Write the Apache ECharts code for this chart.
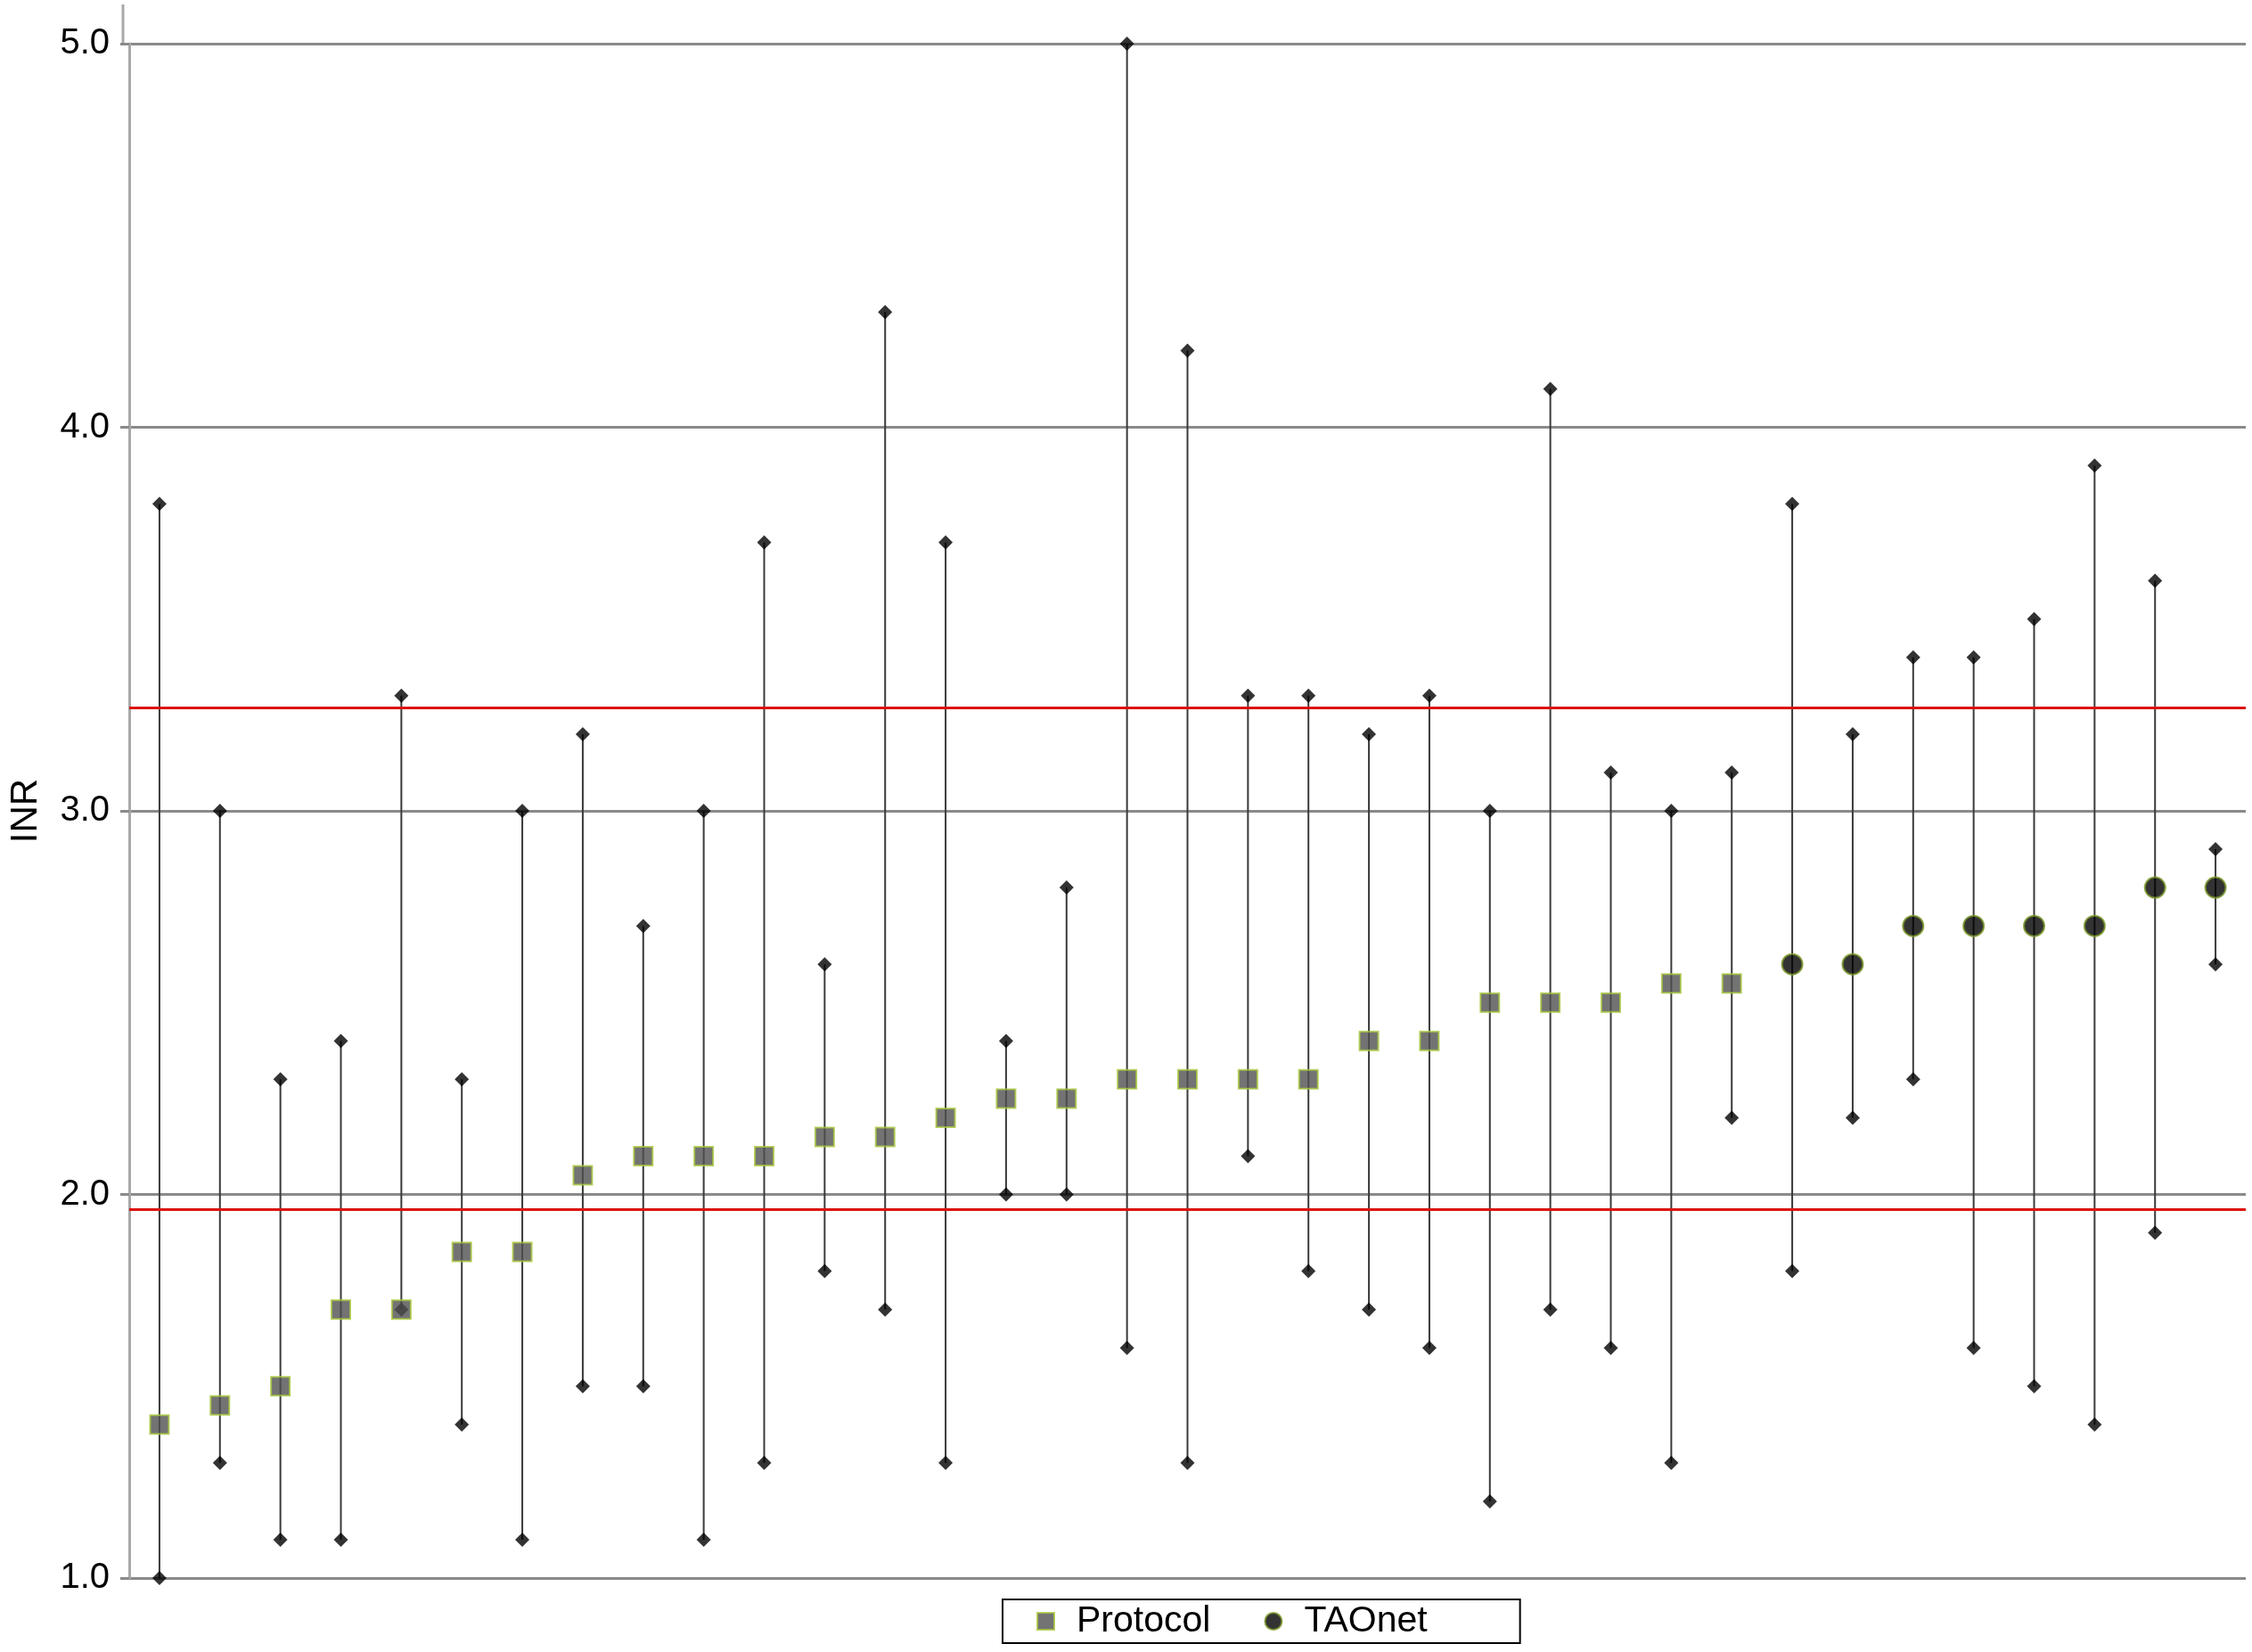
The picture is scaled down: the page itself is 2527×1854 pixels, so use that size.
<!DOCTYPE html>
<html>
<head>
<meta charset="utf-8">
<script src="https://cdn.jsdelivr.net/npm/echarts@6/dist/echarts.min.js"></script>
<style>
  html, body { margin: 0; padding: 0; background: #fff; }
  #chart { width: 2527px; height: 1854px; }
</style>
</head>
<body>
<div id="chart"></div>
<script>
// one column per patient, sorted by central INR
var categories = ["1", "2", "3", "4", "5", "6", "7", "8", "9", "10",
  "11", "12", "13", "14", "15", "16", "17", "18", "19", "20",
  "21", "22", "23", "24", "25", "26", "27", "28", "29", "30",
  "31", "32", "33", "34", "35"];
var groups = ["Protocol", "Protocol", "Protocol", "Protocol", "Protocol", "Protocol", "Protocol",
  "Protocol", "Protocol", "Protocol", "Protocol", "Protocol", "Protocol", "Protocol",
  "Protocol", "Protocol", "Protocol", "Protocol", "Protocol", "Protocol", "Protocol",
  "Protocol", "Protocol", "Protocol", "Protocol", "Protocol", "Protocol",
  "TAOnet", "TAOnet", "TAOnet", "TAOnet", "TAOnet", "TAOnet", "TAOnet", "TAOnet"];
var centerValues = [1.4, 1.45, 1.5, 1.7, 1.7, 1.85, 1.85, 2.05, 2.1, 2.1,
  2.1, 2.15, 2.15, 2.2, 2.25, 2.25, 2.3, 2.3, 2.3, 2.3,
  2.4, 2.4, 2.5, 2.5, 2.5, 2.55, 2.55, 2.6, 2.6, 2.7,
  2.7, 2.7, 2.7, 2.8, 2.8];
var minValues = [1.0, 1.3, 1.1, 1.1, 1.7, 1.4, 1.1, 1.5, 1.5, 1.1,
  1.3, 1.8, 1.7, 1.3, 2.0, 2.0, 1.6, 1.3, 2.1, 1.8,
  1.7, 1.6, 1.2, 1.7, 1.6, 1.3, 2.2, 1.8, 2.2, 2.3,
  1.6, 1.5, 1.4, 1.9, 2.6];
var maxValues = [3.8, 3.0, 2.3, 2.4, 3.3, 2.3, 3.0, 3.2, 2.7, 3.0,
  3.7, 2.6, 4.3, 3.7, 2.4, 2.8, 5.0, 4.2, 3.3, 3.3,
  3.2, 3.3, 3.0, 4.1, 3.1, 3.0, 3.1, 3.8, 3.2, 3.4,
  3.4, 3.5, 3.9, 3.6, 2.9];
var yTicks = [1, 2, 3, 4, 5];
var targetRange = [1.96, 3.27];

var chart = echarts.init(document.getElementById("chart"));

// 按组拆分中心值
function groupData(name) {
  return centerValues.map(function (v, i) { return groups[i] === name ? v : "-"; });
}

var option = {
  animation: false,
  backgroundColor: "#fff",
  textStyle: { fontFamily: "Liberation Sans, Arial, sans-serif", color: "#000" },
  grid: { left: 138, right: 7, top: 49, bottom: 83 },
  // 轴线在顶部网格线之上略微伸出
  graphic: [{
    type: "line",
    shape: { x1: 138, y1: 5, x2: 138, y2: 49 },
    style: { stroke: "#a8a8a8", lineWidth: 3 }
  }],
  legend: {
    data: ["Protocol", "TAOnet"],
    left: 1125,
    top: 1795,
    padding: [4, 104, 4, 38],
    itemGap: 60,
    itemWidth: 19,
    itemHeight: 19,
    borderColor: "#000",
    borderWidth: 2,
    borderRadius: 0,
    textStyle: { fontSize: 41, color: "#000", padding: [0, 0, 0, 20] }
  },
  xAxis: {
    type: "category",
    data: categories,
    boundaryGap: true,
    axisLine: { show: false },
    axisTick: { show: false },
    axisLabel: { show: false },
    splitLine: { show: false }
  },
  yAxis: {
    type: "value",
    min: yTicks[0],
    max: yTicks[yTicks.length - 1],
    interval: 1,
    name: "INR",
    nameLocation: "middle",
    nameGap: 95,
    nameTextStyle: { fontSize: 42, color: "#000" },
    axisLine: { show: true, lineStyle: { color: "#a8a8a8", width: 3 } },
    axisTick: { show: true, length: 10, lineStyle: { color: "#8a8a8a", width: 3 } },
    axisLabel: {
      fontSize: 40, color: "#000", margin: 22,
      formatter: function (v) { return v.toFixed(1); }
    },
    splitLine: { show: true, lineStyle: { color: "#8a8a8a", width: 3 } }
  },
  series: [
    {
      name: "range",
      type: "custom",
      z: 2,
      data: categories.map(function (c, i) { return [i, minValues[i], maxValues[i]]; }),
      renderItem: function (params, api) {
        var p1 = api.coord([api.value(0), api.value(1)]);
        var p2 = api.coord([api.value(0), api.value(2)]);
        return {
          type: "line",
          shape: { x1: p1[0], y1: p1[1], x2: p2[0], y2: p2[1] },
          style: { stroke: "#3a3a3a", lineWidth: 2 }
        };
      },
      markLine: {
        silent: true,
        symbol: "none",
        label: { show: false },
        lineStyle: { color: "#dd1111", width: 3, type: "solid" },
        data: targetRange.map(function (v) { return { yAxis: v }; })
      }
    },
    {
      name: "max",
      type: "scatter",
      z: 3,
      symbol: "diamond",
      symbolSize: 16,
      itemStyle: { color: "#000" },
      data: maxValues
    },
    {
      name: "min",
      type: "scatter",
      z: 3,
      symbol: "diamond",
      symbolSize: 16,
      itemStyle: { color: "#000" },
      data: minValues
    },
    {
      name: "Protocol",
      type: "scatter",
      z: 4,
      symbol: "rect",
      symbolSize: 21,
      itemStyle: { color: "#505050", borderColor: "#a8c83c", borderWidth: 2 },
      data: groupData("Protocol")
    },
    {
      name: "TAOnet",
      type: "scatter",
      z: 4,
      symbol: "circle",
      symbolSize: 23,
      itemStyle: { color: "#000", borderColor: "#7a9a28", borderWidth: 2 },
      data: groupData("TAOnet")
    }
  ]
};

chart.setOption(option);
</script>
</body>
</html>
